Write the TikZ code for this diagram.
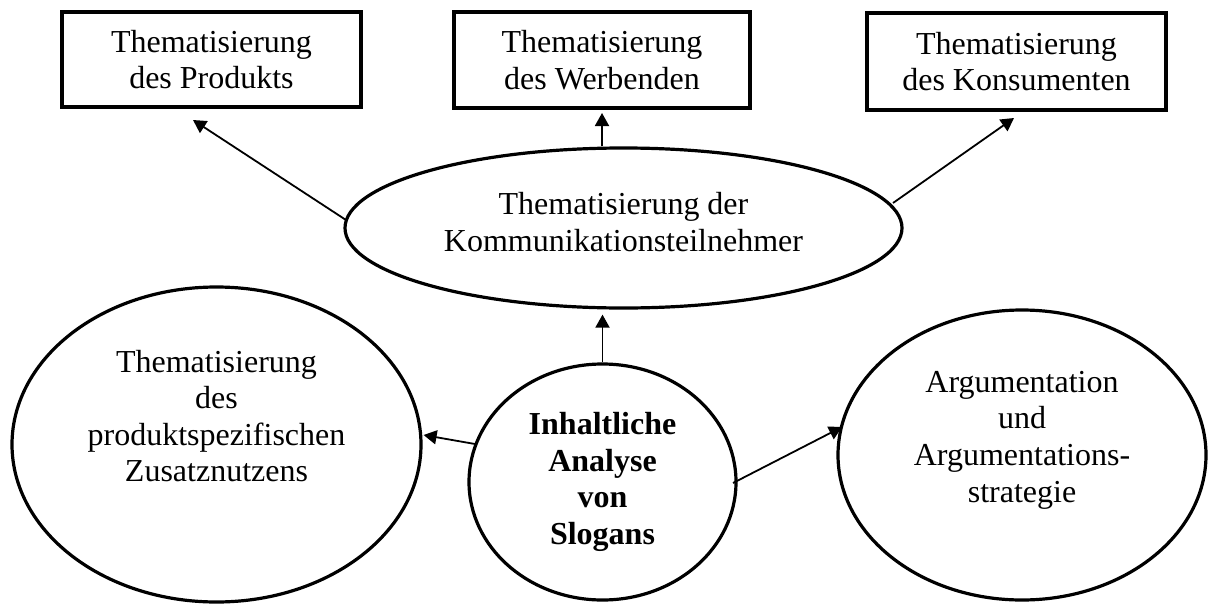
\documentclass[tikz,border=0pt]{standalone}
\usepackage{fontspec}
\setmainfont{Liberation Serif}
\usetikzlibrary{shapes.geometric,arrows.meta,calc}
\begin{document}
\begin{tikzpicture}[x=0.5pt,y=-0.5pt,
  every node/.style={font=\fontsize{16}{18.3}\selectfont, align=center, inner sep=0pt},
  topicbox/.style={draw, line width=2pt, rectangle},
  oval/.style={draw, line width=1.6pt, ellipse},
  conn/.style={line width=0.9pt, -{Triangle[length=6.5pt,width=7pt]}}]
\useasboundingbox (0,0) rectangle (1219,610);

% the three topics at the top
\node[topicbox, minimum width=149.5pt, minimum height=47.5pt] (prod) at (211.5,59.5) {Thematisierung\\des Produkts};
\node[topicbox, minimum width=148pt, minimum height=48pt] (werb) at (602,60) {Thematisierung\\des Werbenden};
\node[topicbox, minimum width=149.5pt, minimum height=48.5pt] (kons) at (1016.5,61.5) {Thematisierung\\des Konsumenten};

% participants of the communication
\node[oval, minimum width=278.5pt, minimum height=80pt] (komm) at (623.5,228) {};
\node (kommtext) at (623.5,222) {Thematisierung der\\Kommunikationsteilnehmer};

% central circle
\node[oval, minimum width=133.5pt, minimum height=118pt, font=\fontsize{16}{18.3}\selectfont\bfseries] (slog) at (602.5,482) {Inhaltliche\\Analyse\\von\\Slogans};

% side ellipses, text set a little above their centres
\node[oval, minimum width=204.5pt, minimum height=157.5pt] (zus) at (216.5,444.5) {};
\node (zustext) at (216.5,416) {Thematisierung\\des\\produktspezifischen\\Zusatznutzens};
\node[oval, minimum width=184pt, minimum height=145pt] (arg) at (1022,455) {};
\node (argtext) at (1022,440) {Argumentation\\und\\Argumentations-\\strategie};

% connectors
\draw[conn] ($(komm.center)+(-277.5,-8)$) -- ($(prod.south)+(-18.5,11)$);
\draw[conn] (komm.north -| werb.south) -- ($(werb.south)+(0,3)$);
\draw[conn] ($(komm.center)+(269.5,-25)$) -- ($(kons.south)+(-2.5,6)$);
\draw[conn] (slog.north) -- ($(slog.north |- komm.south)+(0,5)$);
\draw[conn] ($(slog.center)+(-127.5,-38)$) -- ($(zus.east)+(1,-9.5)$);
\draw[conn] ($(slog.center)+(130.5,1)$) -- ($(arg.center)+(-180,-28)$);
\end{tikzpicture}
\end{document}
